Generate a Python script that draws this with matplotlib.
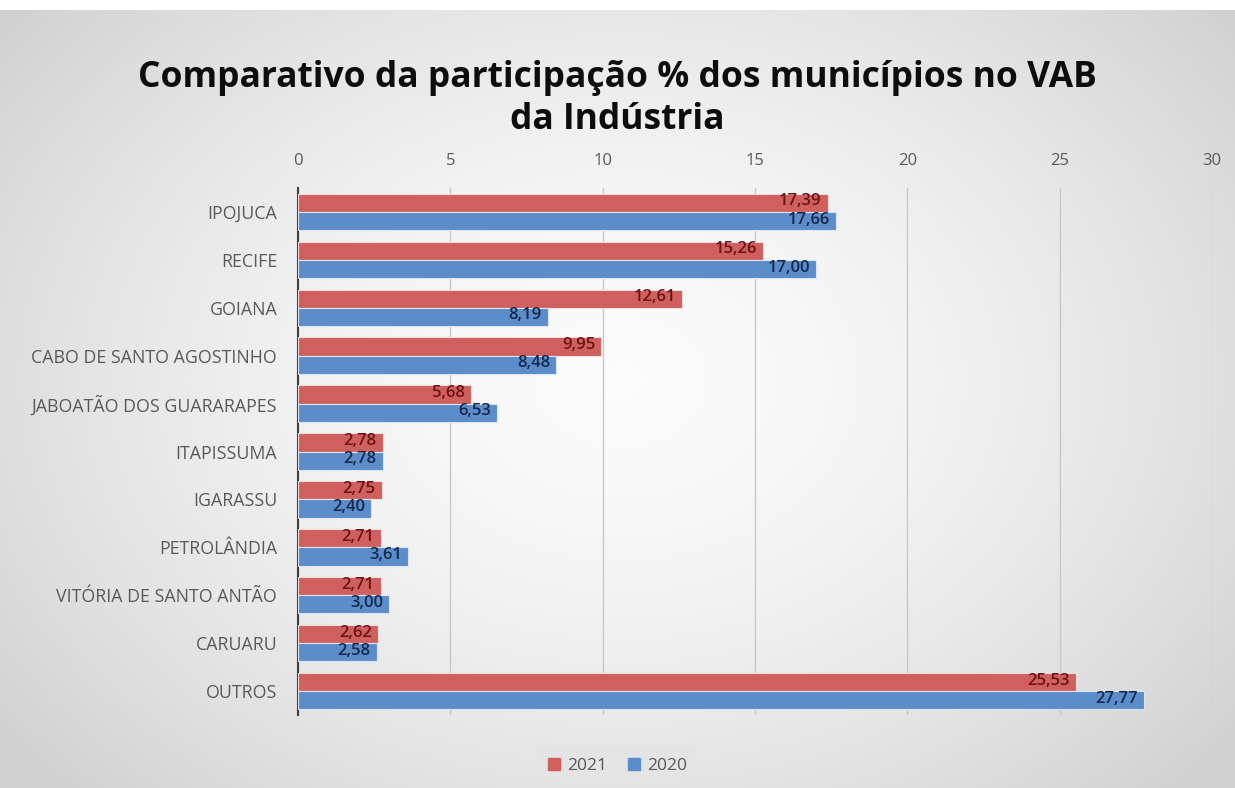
import numpy as np
import matplotlib
matplotlib.use('Agg')
import matplotlib.pyplot as plt
from matplotlib.patches import Patch

municipios = ['IPOJUCA', 'RECIFE', 'GOIANA', 'CABO DE SANTO AGOSTINHO',
              'JABOATÃO DOS GUARARAPES', 'ITAPISSUMA', 'IGARASSU',
              'PETROLÂNDIA', 'VITÓRIA DE SANTO ANTÃO', 'CARUARU', 'OUTROS']
v2021 = [17.39, 15.26, 12.61, 9.95, 5.68, 2.78, 2.75, 2.71, 2.71, 2.62, 25.53]
v2020 = [17.66, 17.00, 8.19, 8.48, 6.53, 2.78, 2.40, 3.61, 3.00, 2.58, 27.77]
xticks = [0, 5, 10, 15, 20, 25, 30]

plt.rcParams['font.family'] = ['Open Sans', 'DejaVu Sans']

fig = plt.figure(figsize=(12.35, 7.88), dpi=100)

# radial gray background
bg = fig.add_axes([0, 0, 1, 1])
yy, xx = np.mgrid[0:788, 0:1235]
r = np.sqrt(((xx - 620) / 800.0) ** 2 + ((yy - 380) / 600.0) ** 2)
shade = np.clip(0.985 - 0.17 * r ** 1.6, 0.82, 1)
img = np.dstack([shade, shade, shade])
img[:10, :, :] = 1.0
bg.imshow(img, aspect='auto', interpolation='bilinear')
bg.axis('off')

ax = fig.add_axes([298 / 1235, 1 - 715 / 788, (1212 - 298) / 1235, (715 - 188) / 788])
ax.patch.set_alpha(0)

red = '#cf605d'
blue = '#5b8dcb'
y = np.arange(len(municipios))
h = 0.38
b1 = ax.barh(y - h / 2, v2021, height=h, color=red, edgecolor='#f2dcdc', linewidth=0.8, label='2021', zorder=3)
b2 = ax.barh(y + h / 2, v2020, height=h, color=blue, edgecolor='#dce6f2', linewidth=0.8, label='2020', zorder=3)

for bars, vals, c in [(b1, v2021, '#6b1416'), (b2, v2020, '#14284a')]:
    for bar, v in zip(bars, vals):
        ax.text(bar.get_width() - 0.2, bar.get_y() + bar.get_height() / 2 - 0.03,
                f'{v:.2f}'.replace('.', ','), ha='right', va='center',
                fontsize=12, fontweight='semibold', color=c, zorder=4)

ax.set_ylim(len(municipios) - 0.5, -0.5)
ax.set_xlim(0, 30)
ax.set_xticks(xticks)
ax.xaxis.tick_top()
ax.tick_params(axis='x', length=0, labelsize=12, labelcolor='#595959', pad=14)
ax.set_yticks(y)
ax.set_yticklabels(municipios)
ax.tick_params(axis='y', length=0, labelsize=12.8, labelcolor='#595959', pad=15)
ax.grid(axis='x', color='#c8c8c8', linewidth=1, zorder=0)
for s in ['top', 'right', 'bottom']:
    ax.spines[s].set_visible(False)
ax.spines['left'].set_color('#404040')
ax.spines['left'].set_linewidth(1.5)

fig.text(0.5, 0.901, 'Comparativo da participação % dos municípios no VAB',
         ha='center', va='center', fontsize=25.5, fontweight='bold', color='#0d0d0d')
fig.text(0.5, 0.848, 'da Indústria', ha='center', va='center',
         fontsize=25.5, fontweight='bold', color='#0d0d0d')

leg = fig.legend(handles=[Patch(color=red, label='2021'), Patch(color=blue, label='2020')],
                 loc='center', bbox_to_anchor=(0.5, 0.028), ncol=2, frameon=True,
                 fontsize=12.5, handlelength=0.7, handleheight=0.7, handletextpad=0.4,
                 columnspacing=1.2, fancybox=False, borderpad=0.6)
leg.get_frame().set_facecolor('#e4e4e4')
leg.get_frame().set_edgecolor('none')
for t in leg.get_texts():
    t.set_color('#595959')

fig.savefig('out.png', dpi=100)
